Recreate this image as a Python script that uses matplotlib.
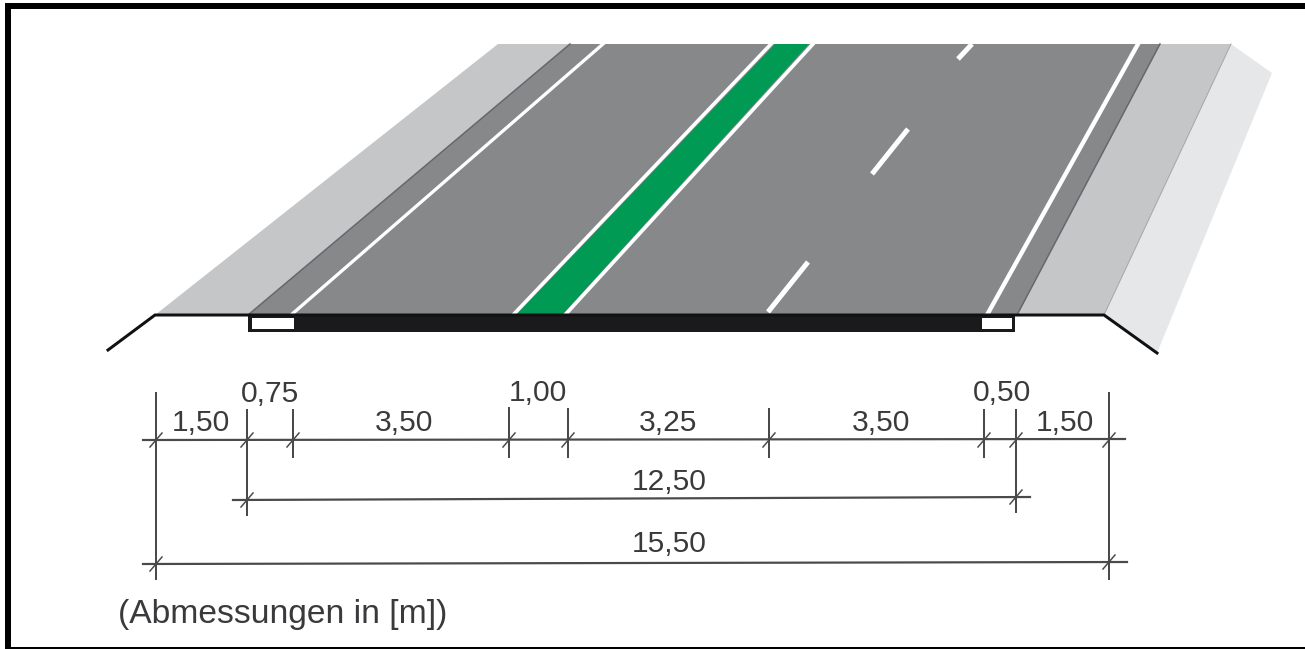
import matplotlib
matplotlib.use("Agg")
import matplotlib.pyplot as plt
from matplotlib.patches import Polygon, Rectangle

plt.rcParams['font.family'] = ['Liberation Sans', 'DejaVu Sans']

# road surfaces, image pixels (x, y)
shoulder_left = [(155, 315), (498, 44), (570, 44), (248, 315)]
asphalt = [(248, 315), (570, 44), (1160, 44), (1017, 315)]
shoulder_right = [(1017, 315), (1160, 44), (1231, 44), (1104, 315)]
slope_right = [(1104, 315), (1231, 44), (1272, 73), (1157, 353)]
green_strip = [(516, 315), (775, 44), (809, 44), (562, 315)]

# white markings: x at the bottom, x at the top, y range
solid_lines = [(291, 603), (513, 771), (565, 813), (987, 1138)]
dashes = [(768, 312, 808, 262), (872, 174, 908, 129), (958, 59, 972, 44)]

terrain_x = [108, 155, 1104, 1157]
terrain_y = [350, 315, 315, 353]

# dimension chain
chain_x = [156, 247, 293, 509, 568, 769, 984, 1016, 1109]
chain_top = [393, 410, 410, 408, 409, 409, 410, 410, 393]
chain_bottom = [579, 515, 457, 457, 457, 457, 457, 512, 579]
chain_labels = ["1,50", "0,75", "3,50", "1,00", "3,25", "3,50", "0,50", "1,50"]
label_x = [201, 270, 404, 538, 668, 881, 1002, 1065]
label_y = [423, 394, 423, 393, 423, 423, 393, 423]

totals = ["12,50", "15,50"]
total_x = [669, 669]
total_y = [482, 544]
total_line_x = [(233, 1030), (143, 1127)]
total_line_y = [(500, 497), (564, 562)]
total_ends = [(247, 1016), (156, 1109)]

note = "(Abmessungen in [m])"

ROAD = "#87888a"
LIGHT = "#c5c6c8"
LINE = "#4a4a4c"


def px(w):
    return w * 0.72


def stripe(ax, xb, xt, w=5):
    ax.add_patch(Polygon([(xb - w / 2, 315), (xt - w / 2, 44), (xt + w / 2, 44), (xb + w / 2, 315)],
                         fc="white", ec="none"))


def slash(ax, x, y):
    ax.plot([x - 6, x + 6], [y + 7, y - 7], color=LINE, lw=px(1.5))


fig = plt.figure(figsize=(13.05, 6.49), dpi=100)
ax = fig.add_axes([0, 0, 1, 1])
ax.set_xlim(0, 1305)
ax.set_ylim(649, 0)
ax.axis("off")

# black frame, open on the right
ax.add_patch(Rectangle((0, 0), 1305, 649, fc="white", ec="none"))
ax.add_patch(Rectangle((5, 3), 1300, 5.5, fc="black", ec="none"))
ax.add_patch(Rectangle((5, 3), 6, 646, fc="black", ec="none"))
ax.add_patch(Rectangle((5, 647), 1300, 2, fc="black", ec="none"))

ax.add_patch(Polygon(slope_right, fc="#e6e7e8", ec="none"))
ax.add_patch(Polygon(shoulder_left, fc=LIGHT, ec="none"))
ax.add_patch(Polygon(shoulder_right, fc=LIGHT, ec="none"))
ax.add_patch(Polygon(asphalt, fc=ROAD, ec="none"))
ax.plot([248, 570], [315, 44], color="#66676a", lw=px(1.5))
ax.plot([1017, 1160], [315, 44], color="#66676a", lw=px(1.5))
ax.plot([1104, 1231], [315, 44], color="#a5a6a8", lw=px(1))
ax.add_patch(Polygon(green_strip, fc="#009a55", ec="none"))
for xb, xt in solid_lines:
    stripe(ax, xb, xt)
for x0, y0, x1, y1 in dashes:
    ax.plot([x0, x1], [y0, y1], color="white", lw=px(5), solid_capstyle="butt")

# slab under the carriageway
ax.plot(terrain_x, terrain_y, color="#111113", lw=px(3), solid_joinstyle="miter")
ax.add_patch(Rectangle((248, 314), 767, 17.5, fc="#1a1a1c", ec="none"))
ax.add_patch(Rectangle((252, 318), 42, 11, fc="white", ec="none"))
ax.add_patch(Rectangle((982, 318), 30, 11, fc="white", ec="none"))

# dimension lines
ax.plot([143, 1125], [440, 439], color=LINE, lw=px(2.2))
for x, top, bot in zip(chain_x, chain_top, chain_bottom):
    ax.plot([x, x], [top, bot], color=LINE, lw=px(2))
    slash(ax, x, 440)
for (x0, x1), (y0, y1), (e0, e1) in zip(total_line_x, total_line_y, total_ends):
    ax.plot([x0, x1], [y0, y1], color=LINE, lw=px(2.2))
    slash(ax, e0, y0)
    slash(ax, e1, y1)

for lab, x, y in zip(chain_labels, label_x, label_y):
    ax.text(x, y, lab, fontsize=px(30), color="#3a3a3c", ha="center", va="center")
for lab, x, y in zip(totals, total_x, total_y):
    ax.text(x, y, lab, fontsize=px(30), color="#3a3a3c", ha="center", va="center")
ax.text(118, 614, note, fontsize=px(33.6), color="#3a3a3c", ha="left", va="center")

fig.savefig("out.png", dpi=100)
